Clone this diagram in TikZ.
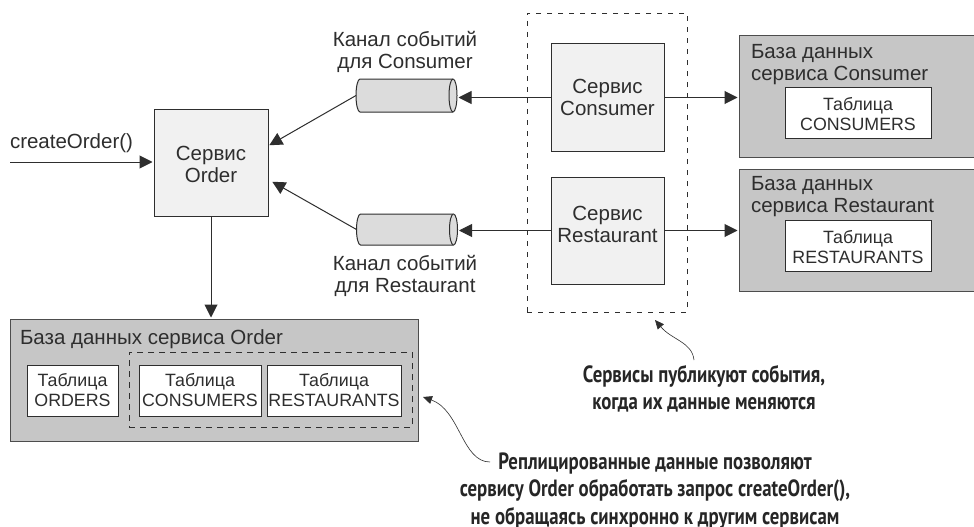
\documentclass[tikz,border=0pt]{standalone}
\usepackage{fontspec}
\usetikzlibrary{arrows.meta}
\setmainfont{Liberation Sans}
\newfontfamily\notefont[FakeStretch=0.8]{PT Sans}
\definecolor{ink}{HTML}{2E2E2E}
\definecolor{svcfill}{HTML}{F1F1F1}
\definecolor{dbfill}{HTML}{C6C6C6}
\definecolor{cylfill}{HTML}{DCDCDC}
\tikzset{
  every node/.style={text=ink,font=\fontsize{20.5}{22}\selectfont,inner sep=0pt,outer sep=0pt},
  svcbox/.style={draw=ink,line width=1pt,fill=svcfill,align=center,minimum width=113pt,minimum height=107pt},
  dbbox/.style={draw=ink!85,line width=1pt,fill=dbfill},
  tablebox/.style={draw=ink,line width=1pt,fill=white,align=center,minimum height=51pt,font=\fontsize{17.8}{20}\selectfont},
  chanspace/.style={minimum width=101pt},
  chanline/.style={draw=ink,line width=1pt,fill=cylfill},
  lbl/.style={align=center},
  dbtitle/.style={align=left,anchor=north west},
  flow/.style={draw=ink,line width=1pt,-{Triangle[length=13pt,width=13pt]},shorten >=1.5pt},
  group/.style={draw=ink,line width=0.9pt,dash pattern=on 5pt off 6pt},
  callout/.style={draw=ink,line width=0.6pt,-{Triangle[length=9pt,width=8pt]}},
  note/.style={align=center,font=\notefont\bfseries\fontsize{23.5}{27.5}\selectfont,text=black!85}
}
% #1 node name, #2 half height of the tube
\newcommand{\drawtube}[2]{%
  \draw[chanline] ([xshift=-4pt]#1.north east)
    arc[start angle=90,end angle=-90,x radius=4pt,y radius=#2]
    -- ([xshift=4pt]#1.south west)
    arc[start angle=270,end angle=90,x radius=4pt,y radius=#2] -- cycle;
  \draw[chanline] ([xshift=-4pt]#1.north east)
    arc[start angle=90,end angle=270,x radius=4pt,y radius=#2];
}
\begin{document}
\begin{tikzpicture}[x=1pt,y=-1pt]
\useasboundingbox (0,0) rectangle (974,527);
\fill[white] (0,0) rectangle (974,527);
% dashed group behind the connectors
\node[group,minimum width=160pt,minimum height=299pt] (grp) at (607,162.5) {};
% services
\node[svcbox,minimum width=114pt] (order) at (211,162.5) {};
\node[lbl] (ordertext) at (211,164) {Сервис\\Order};
\node[svcbox] (svcC) at (607.5,97.5) {Сервис\\Consumer};
\node[svcbox] (svcR) at (607.5,230.5) {};
\node[lbl] (svcRtext) at (607.5,224.5) {Сервис\\Restaurant};
% channels
\node[chanspace,minimum height=33pt] (cylC) at (406.5,95.5) {};
\node[chanspace,minimum height=31pt] (cylR) at (407,229.5) {};
\drawtube{cylC}{16.5pt}
\drawtube{cylR}{15.5pt}
\node[lbl] (lblC) at (405,51.5) {Канал событий\\для Consumer};
\node[lbl] (lblR) at (405,276) {Канал событий\\для Restaurant};
% consumer and restaurant databases
\node[dbbox,minimum width=240pt,minimum height=121pt] (dbC) at (859,96.5) {};
\node[dbbox,minimum width=240pt,minimum height=122pt] (dbR) at (859,230) {};
\node[dbtitle] (ttlC) at (751,44.5) {База данных\\сервиса Consumer};
\node[dbtitle] (ttlR) at (751,176) {База данных\\сервиса Restaurant};
\node[tablebox,minimum width=146pt] (tblC) at (858,112.5) {};
\node[tablebox,minimum width=146pt] (tblR) at (858,245.5) {};
\node[lbl,font=\fontsize{17.8}{20}\selectfont] (tblCtext) at (858,114.5) {Таблица\\CONSUMERS};
\node[lbl,font=\fontsize{17.8}{20}\selectfont] (tblRtext) at (858,247.5) {Таблица\\RESTAURANTS};
% order database
\node[dbbox,minimum width=408pt,minimum height=122pt] (dbO) at (214,380) {};
\node[dbtitle] (ttlO) at (20,330) {База данных сервиса Order};
\node[group,dash pattern=on 6pt off 5pt,minimum width=283pt,minimum height=75pt] (grpO) at (270.5,389.5) {};
\node[tablebox,minimum width=91pt] (tO) at (72.5,390.5) {Таблица\\ORDERS};
\node[tablebox,minimum width=122pt] (tC) at (200,390.5) {Таблица\\CONSUMERS};
\node[tablebox,minimum width=134pt] (tR) at (334,390.5) {Таблица\\RESTAURANTS};
% entry
\node[anchor=west] (call) at (10,143.5) {createOrder()};
\coordinate (start) at (10,162);
\coordinate (inC) at (268,146);
\coordinate (inR) at (271,181);
\draw[flow] (start) -- (order.west |- start);
\draw[flow] (svcC.west) -- (cylC.east |- svcC.west);
\draw[flow] (svcR.west) -- (cylR.east |- svcR.west);
\draw[flow] (svcC.east) -- (dbC.west |- svcC.east);
\draw[flow] (svcR.east) -- (dbR.west |- svcR.east);
\draw[flow] (cylC.west) -- (inC);
\draw[flow] (cylR.west) -- (inR);
\draw[flow] (order.south) -- (dbO.north -| order.south);
% notes
\node[note] (noteS) at (704,389) {Сервисы публикуют события,\\когда их данные меняются};
\node[note] (noteD) at (655,491) {Реплицированные данные позволяют\\сервису Order обработать запрос createOrder(),\\не обращаясь синхронно к другим сервисам};
\coordinate (fromS) at (694,360);
\coordinate (toS) at (655,320);
\coordinate (fromD) at (490,462);
\coordinate (toD) at (423,397);
\draw[callout] (fromS) .. controls (692,342) and (672,340) .. (toS);
\draw[callout] (fromD) .. controls (462,462) and (460,410) .. (toD);
\end{tikzpicture}
\end{document}
